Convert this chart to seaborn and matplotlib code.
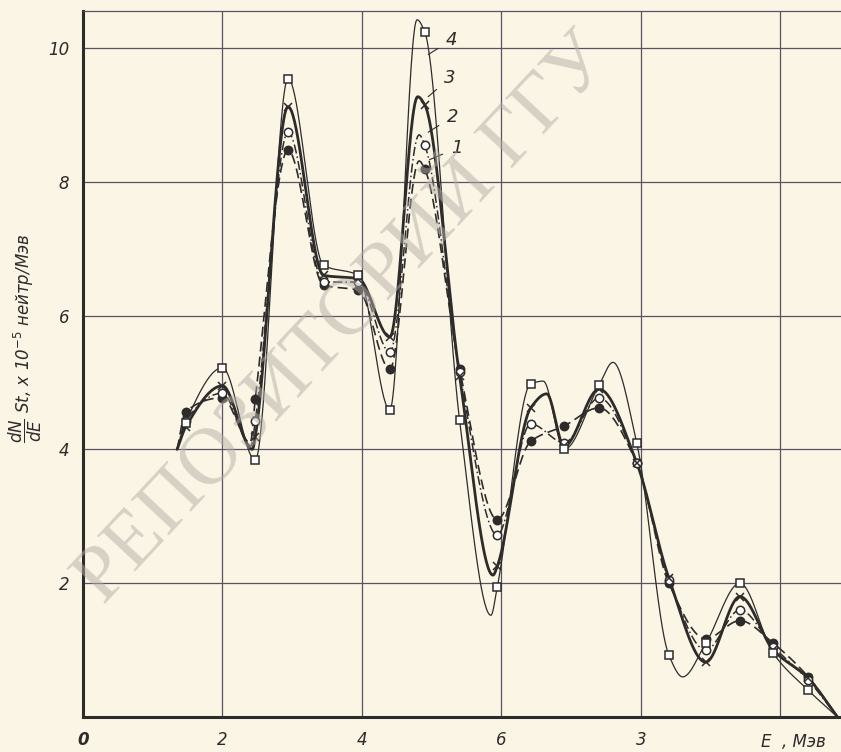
import numpy as np
import pandas as pd
import seaborn as sns
import matplotlib.pyplot as plt

energy = [1.35, 1.47, 2.0, 2.47, 2.94, 3.45, 3.95, 4.4, 4.9, 5.4, 5.94,
          6.42, 6.9, 7.4, 7.94, 8.4, 8.93, 9.42, 9.9, 10.4, 10.82]
curve1 = [4.0, 4.56, 4.77, 4.75, 8.47, 6.45, 6.38, 5.2, 8.19, 5.2, 2.95,
          4.12, 4.35, 4.62, 3.8, 2.0, 1.17, 1.44, 1.1, 0.6, 0.0]
curve2 = [4.0, 4.42, 4.84, 4.42, 8.74, 6.5, 6.5, 5.45, 8.55, 5.15, 2.72,
          4.38, 4.1, 4.77, 3.8, 2.05, 1.0, 1.6, 1.05, 0.55, 0.0]
curve3 = [4.0, 4.33, 4.95, 4.19, 9.12, 6.6, 6.55, 5.68, 9.15, 5.1, 2.25,
          4.62, 4.05, 4.9, 3.8, 2.08, 0.82, 1.8, 1.0, 0.58, 0.0]
curve4 = [4.0, 4.4, 5.22, 3.84, 9.54, 6.75, 6.6, 4.59, 10.24, 4.44, 1.94,
          4.98, 4.0, 4.96, 4.10, 0.93, 1.1, 2.0, 0.95, 0.4, 0.0]

# turning points of the drawn curves that fall between the markers
turn1_x, turn1_y = [2.4, 4.82], [4.1, 8.31]
turn2_x, turn2_y = [2.41, 4.82], [4.05, 8.7]
turn3_x, turn3_y = [2.43, 4.8, 5.88, 6.65], [4.0, 9.27, 2.12, 4.83]
turn4_x, turn4_y = [4.79, 5.85, 6.6, 7.6, 8.6], [10.42, 1.52, 5.02, 5.3, 0.6]

labels = ['1', '2', '3', '4']
x_ticks = [0, 2, 4, 6, 8, 10]
x_ticklabels = ['0', '2', '4', '6', '3', '']
y_ticks = [2, 4, 6, 8, 10]


def smooth(x, y, n=800):
    # monotone cubic (pchip) through the points, drawn like a french curve
    order = np.argsort(x)
    x = np.asarray(x, float)[order]
    y = np.asarray(y, float)[order]
    h = np.diff(x)
    delta = np.diff(y) / h
    m = np.zeros(len(x))
    m[0], m[-1] = delta[0], delta[-1]
    for i in range(1, len(x) - 1):
        if delta[i - 1] * delta[i] > 0:
            w1 = 2 * h[i] + h[i - 1]
            w2 = h[i] + 2 * h[i - 1]
            m[i] = (w1 + w2) / (w1 / delta[i - 1] + w2 / delta[i])
    xs = np.linspace(x[0], x[-1], n)
    idx = np.clip(np.searchsorted(x, xs) - 1, 0, len(x) - 2)
    t = (xs - x[idx]) / h[idx]
    h00 = 2 * t**3 - 3 * t**2 + 1
    h10 = t**3 - 2 * t**2 + t
    h01 = -2 * t**3 + 3 * t**2
    h11 = t**3 - t**2
    ys = (h00 * y[idx] + h10 * h[idx] * m[idx] + h01 * y[idx + 1]
          + h11 * h[idx] * m[idx + 1])
    return xs, ys


paper = '#faf5e4'
ink = '#2e2b2b'
grid_c = '#5a5262'

sns.set_style('white')
plt.rcParams['font.family'] = ['DejaVu Sans']

fig = plt.figure(figsize=(8.41, 7.52), dpi=100, facecolor=paper)
ax = fig.add_axes([0.0987, 0.0465, 0.9013, 0.9388])
ax.set_facecolor(paper)

styles = [
    dict(dashes=(6, 3), lw=1.2, marker='o', mfc=ink, ms=6),
    dict(dashes=(6, 2, 1, 2), lw=1.1, marker='o', mfc='white', ms=6),
    dict(dashes=(), lw=2.0, marker='x', mfc=ink, ms=6),
    dict(dashes=(), lw=0.9, marker='s', mfc='white', ms=6),
]
series = [(curve1, turn1_x, turn1_y), (curve2, turn2_x, turn2_y),
          (curve3, turn3_x, turn3_y), (curve4, turn4_x, turn4_y)]

for (vals, tx, ty), st in zip(series, styles):
    xs, ys = smooth(energy + tx, vals + ty)
    df = pd.DataFrame({'E': xs, 'v': ys})
    sns.lineplot(data=df, x='E', y='v', ax=ax, color=ink, lw=st['lw'],
                 sort=False, zorder=3)
    ln = ax.lines[-1]
    if st['dashes']:
        ln.set_dashes(st['dashes'])
    ax.plot(energy[1:-1], vals[1:-1], ls='none', marker=st['marker'],
            mfc=st['mfc'], mec=ink, ms=st['ms'], mew=1.1, zorder=4)

# curve numbers with leader lines
label_pos = [(5.36, 8.5), (5.3, 8.97), (5.26, 9.55), (5.29, 10.12)]
leader_to = [(4.97, 8.33), (4.95, 8.74), (4.95, 9.27), (4.95, 9.9)]
for lab, (tx, ty), (px, py) in zip(labels, label_pos, leader_to):
    ax.annotate(lab, xy=(px, py), xytext=(tx, ty), fontsize=13,
                fontstyle='italic', color=ink, ha='center', va='center',
                arrowprops=dict(arrowstyle='-', color=ink, lw=0.8,
                                shrinkA=4, shrinkB=0))

ax.set_xlim(0, 10.87)
ax.set_ylim(0, 10.55)
ax.set_xticks(x_ticks)
ax.set_xticklabels(x_ticklabels)
ax.set_yticks(y_ticks)
ax.set_yticklabels([str(v) for v in y_ticks])
ax.tick_params(length=0, labelsize=12, colors=ink, pad=10)
for t in ax.get_xticklabels() + ax.get_yticklabels():
    t.set_fontstyle('italic')
ax.get_xticklabels()[0].set_fontweight('bold')
ax.set_xlabel('')
ax.set_ylabel('')
ax.grid(True, color=grid_c, lw=0.9)

for s in ['left', 'bottom']:
    ax.spines[s].set_linewidth(2.2)
    ax.spines[s].set_color(ink)
ax.spines['top'].set_linewidth(0.9)
ax.spines['top'].set_color(grid_c)
ax.spines['right'].set_visible(False)

ax.text(9.72, -0.38, 'E  , Мэв', fontsize=12, fontstyle='italic', color=ink,
        ha='left', va='center', clip_on=False)

fig.text(0.03, 0.55, r'$\dfrac{dN}{dE}$ St, x 10$^{-5}$ нейтр/Мэв',
         rotation=90, fontsize=12, fontstyle='italic', color=ink,
         ha='center', va='center')

# library watermark stamped across the scan
fig.text(0.41, 0.575, 'РЕПОЗИТОРИЙ ГГУ', rotation=47, fontsize=58,
         family=['Liberation Serif', 'DejaVu Serif'], color='#b3aca6',
         alpha=0.5, ha='center', va='center', zorder=10)

fig.savefig('out.png', dpi=100, facecolor=paper)
